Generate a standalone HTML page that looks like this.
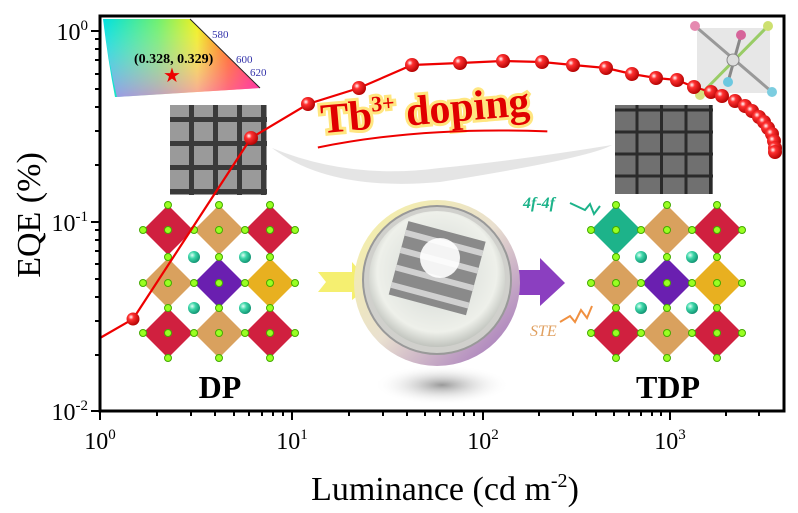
<!DOCTYPE html>
<html><head><meta charset="utf-8"><style>
html,body{margin:0;padding:0;background:#fff}
svg{display:block}
</style></head><body>
<svg width="798" height="513" viewBox="0 0 798 513" xmlns="http://www.w3.org/2000/svg" font-family="Liberation Serif, serif">
<defs>
<radialGradient id="ball" cx="0.35" cy="0.35" r="0.7"><stop offset="0" stop-color="#fff"/><stop offset="0.3" stop-color="#ff3030"/><stop offset="1" stop-color="#b00000"/></radialGradient>
<radialGradient id="tealb" cx="0.35" cy="0.35" r="0.7"><stop offset="0" stop-color="#e0fff5"/><stop offset="0.4" stop-color="#3cd6a8"/><stop offset="1" stop-color="#0f9070"/></radialGradient>
<linearGradient id="cie" x1="0" y1="0" x2="1" y2="0"><stop offset="0" stop-color="#00e0e0"/><stop offset="0.35" stop-color="#70f070"/><stop offset="0.6" stop-color="#f0f020"/><stop offset="0.8" stop-color="#ff6000"/><stop offset="1" stop-color="#ff0050"/></linearGradient>
<linearGradient id="cie2" x1="0" y1="0" x2="0" y2="1"><stop offset="0" stop-color="#fff" stop-opacity="0"/><stop offset="1" stop-color="#ff60ff" stop-opacity="0.55"/></linearGradient>
<radialGradient id="shadow" cx="0.5" cy="0.5" r="0.5"><stop offset="0" stop-color="#999"/><stop offset="1" stop-color="#fff" stop-opacity="0"/></radialGradient>
<radialGradient id="disk" cx="0.5" cy="0.45" r="0.55"><stop offset="0" stop-color="#fff"/><stop offset="0.2" stop-color="#d8dcd8"/><stop offset="0.8" stop-color="#eef0ea"/><stop offset="1" stop-color="#c0c3bd"/></radialGradient>
<linearGradient id="ring" x1="0" y1="0" x2="1" y2="1"><stop offset="0" stop-color="#f7f2a0"/><stop offset="0.5" stop-color="#e9e0d0"/><stop offset="1" stop-color="#9b68b8"/></linearGradient>
<pattern id="sem" width="24" height="24" patternUnits="userSpaceOnUse"><rect width="24" height="24" fill="#3a3a3a"/><rect x="2" y="2" width="19" height="19" fill="#9a9a9a"/></pattern>
<pattern id="sem2" width="24.5" height="22" patternUnits="userSpaceOnUse"><rect width="24.5" height="22" fill="#2a2a2a"/><rect x="1.5" y="1.5" width="21.5" height="19" fill="#707070"/></pattern>
</defs>

<path d="M103,19 L190,19 L260,88 L117,97 L115,97 Q108,60 103,19Z" fill="url(#cie)"/>
<path d="M103,19 L190,19 L260,88 L117,97 Q108,60 103,19Z" fill="url(#cie2)"/>
<line x1="190" y1="19" x2="260" y2="88" stroke="#222" stroke-width="1"/>
<text x="212" y="38" font-size="11" fill="#33a">580</text>
<text x="236" y="63" font-size="11" fill="#33a">600</text>
<text x="250" y="76" font-size="11" fill="#33a">620</text>
<text x="134" y="63" font-size="14" font-weight="bold">(0.328, 0.329)</text>
<text x="172" y="82" font-size="20" fill="#e00" text-anchor="middle">★</text>

<rect x="697" y="28" width="73" height="65" fill="#ddd" opacity="0.7"/>
<line x1="695" y1="26" x2="772" y2="92" stroke="#999" stroke-width="3"/>
<line x1="768" y1="26" x2="700" y2="95" stroke="#9c6" stroke-width="3"/>
<line x1="741" y1="35" x2="728" y2="82" stroke="#888" stroke-width="3"/>
<circle cx="733" cy="60" r="6" fill="#ddd" stroke="#888"/>
<circle cx="695" cy="26" r="5" fill="#e58ab0"/><circle cx="768" cy="26" r="5" fill="#cde070"/><circle cx="741" cy="35" r="5" fill="#d6649a"/>
<circle cx="772" cy="92" r="5" fill="#7ccde0"/><circle cx="728" cy="82" r="5" fill="#6cc8e0"/><circle cx="700" cy="95" r="5" fill="#d6e080"/>

<path d="M272,148 Q350,180 440,168 Q520,160 612,145 Q590,158 440,182 Q330,192 272,148Z" fill="#ccc" opacity="0.5"/>

<rect x="170" y="105" width="97" height="90" fill="url(#sem)"/>
<rect x="615" y="105" width="98" height="89" fill="url(#sem2)"/>

<g transform="rotate(-5 425 110)">
<text x="425" y="124" font-size="42" font-weight="bold" fill="#e00000" text-anchor="middle" stroke="#ffe680" stroke-width="6" paint-order="stroke">Tb<tspan font-size="22" dy="-17">3+</tspan><tspan dy="17"> doping</tspan></text>
<path d="M315,138 Q420,126 545,142" stroke="#e00" stroke-width="2" fill="none"/>
</g>

<g>
<polygon points="168,205 193,230 168,255 143,230" fill="#d0203f"/>
<polygon points="219,205 244,230 219,255 194,230" fill="#d9a15e"/>
<polygon points="270,205 295,230 270,255 245,230" fill="#d0203f"/>
<polygon points="168,258 193,283 168,308 143,283" fill="#d9a15e"/>
<polygon points="219,258 244,283 219,308 194,283" fill="#6a1fb0"/>
<polygon points="270,258 295,283 270,308 245,283" fill="#e8b020"/>
<polygon points="168,308 193,333 168,358 143,333" fill="#d0203f"/>
<polygon points="219,308 244,333 219,358 194,333" fill="#d9a15e"/>
<polygon points="270,308 295,333 270,358 245,333" fill="#d0203f"/>
</g>
<g fill="url(#tealb)"><circle cx="194" cy="257" r="6"/><circle cx="245" cy="257" r="6"/><circle cx="194" cy="308" r="6"/><circle cx="245" cy="308" r="6"/></g>
<g fill="#9f2" stroke="#4a0" stroke-width="1">
<circle cx="143" cy="230" r="3.5"/><circle cx="194" cy="230" r="3.5"/><circle cx="245" cy="230" r="3.5"/><circle cx="295" cy="230" r="3.5"/>
<circle cx="168" cy="205" r="3.5"/><circle cx="219" cy="205" r="3.5"/><circle cx="270" cy="205" r="3.5"/>
<circle cx="168" cy="230" r="3.5"/><circle cx="219" cy="230" r="3.5"/><circle cx="270" cy="230" r="3.5"/>
<circle cx="143" cy="283" r="3.5"/><circle cx="194" cy="283" r="3.5"/><circle cx="245" cy="283" r="3.5"/><circle cx="295" cy="283" r="3.5"/>
<circle cx="168" cy="283" r="3.5"/><circle cx="219" cy="283" r="3.5"/><circle cx="270" cy="283" r="3.5"/>
<circle cx="168" cy="257" r="3.5"/><circle cx="219" cy="257" r="3.5"/><circle cx="270" cy="257" r="3.5"/>
<circle cx="168" cy="308" r="3.5"/><circle cx="219" cy="308" r="3.5"/><circle cx="270" cy="308" r="3.5"/>
<circle cx="143" cy="333" r="3.5"/><circle cx="194" cy="333" r="3.5"/><circle cx="245" cy="333" r="3.5"/><circle cx="295" cy="333" r="3.5"/>
<circle cx="168" cy="333" r="3.5"/><circle cx="219" cy="333" r="3.5"/><circle cx="270" cy="333" r="3.5"/>
<circle cx="168" cy="358" r="3.5"/><circle cx="219" cy="358" r="3.5"/><circle cx="270" cy="358" r="3.5"/>
</g>
<g>
<polygon points="616,205 641,230 616,255 591,230" fill="#1db38a"/>
<polygon points="667,205 692,230 667,255 642,230" fill="#d9a15e"/>
<polygon points="717,205 742,230 717,255 692,230" fill="#d0203f"/>
<polygon points="616,258 641,283 616,308 591,283" fill="#d9a15e"/>
<polygon points="667,258 692,283 667,308 642,283" fill="#6a1fb0"/>
<polygon points="717,258 742,283 717,308 692,283" fill="#e8b020"/>
<polygon points="616,308 641,333 616,358 591,333" fill="#d0203f"/>
<polygon points="667,308 692,333 667,358 642,333" fill="#d9a15e"/>
<polygon points="717,308 742,333 717,358 692,333" fill="#d0203f"/>
</g>
<g fill="url(#tealb)"><circle cx="641" cy="257" r="6"/><circle cx="692" cy="257" r="6"/><circle cx="641" cy="308" r="6"/><circle cx="692" cy="308" r="6"/></g>
<g fill="#9f2" stroke="#4a0" stroke-width="1">
<circle cx="591" cy="230" r="3.5"/><circle cx="641" cy="230" r="3.5"/><circle cx="692" cy="230" r="3.5"/><circle cx="742" cy="230" r="3.5"/>
<circle cx="616" cy="205" r="3.5"/><circle cx="667" cy="205" r="3.5"/><circle cx="717" cy="205" r="3.5"/>
<circle cx="616" cy="230" r="3.5"/><circle cx="667" cy="230" r="3.5"/><circle cx="717" cy="230" r="3.5"/>
<circle cx="591" cy="283" r="3.5"/><circle cx="641" cy="283" r="3.5"/><circle cx="692" cy="283" r="3.5"/><circle cx="742" cy="283" r="3.5"/>
<circle cx="616" cy="283" r="3.5"/><circle cx="667" cy="283" r="3.5"/><circle cx="717" cy="283" r="3.5"/>
<circle cx="616" cy="257" r="3.5"/><circle cx="667" cy="257" r="3.5"/><circle cx="717" cy="257" r="3.5"/>
<circle cx="616" cy="308" r="3.5"/><circle cx="667" cy="308" r="3.5"/><circle cx="717" cy="308" r="3.5"/>
<circle cx="591" cy="333" r="3.5"/><circle cx="641" cy="333" r="3.5"/><circle cx="692" cy="333" r="3.5"/><circle cx="742" cy="333" r="3.5"/>
<circle cx="616" cy="333" r="3.5"/><circle cx="667" cy="333" r="3.5"/><circle cx="717" cy="333" r="3.5"/>
<circle cx="616" cy="358" r="3.5"/><circle cx="667" cy="358" r="3.5"/><circle cx="717" cy="358" r="3.5"/>
</g>
<text x="523" y="208" font-size="16" font-style="italic" font-weight="bold" fill="#1db38a">4f-4f</text>
<path d="M570,203 L585,210 L590,204 L594,214 L600,206" stroke="#1db38a" stroke-width="2" fill="none"/>
<text x="530" y="336" font-size="16" font-style="italic" fill="#e0a060">STE</text>
<path d="M560,322 L570,316 L575,322 L581,310 L587,318 L592,306" stroke="#f09040" stroke-width="2" fill="none"/>

<polygon points="318,272 352,272 352,262 372,285 352,300 352,292 318,292 326,282" fill="#f5ef70"/>
<polygon points="512,270 540,270 540,258 565,283 540,306 540,295 512,295" fill="#8b3fc0"/>
<ellipse cx="442" cy="385" rx="68" ry="20" fill="url(#shadow)"/>
<circle cx="437" cy="283" r="83" fill="url(#ring)"/>
<circle cx="437" cy="280" r="74" fill="#d0d0cc" stroke="#999" stroke-width="2"/>
<circle cx="437" cy="279" r="68" fill="url(#disk)"/>
<g transform="rotate(15 437 265)"><rect x="398" y="230" width="80" height="76" fill="#8a8a8a"/>
<g stroke="#d0d0d0" stroke-width="6"><line x1="398" y1="242" x2="478" y2="242"/><line x1="398" y1="260" x2="478" y2="260"/><line x1="398" y1="278" x2="478" y2="278"/><line x1="398" y1="296" x2="478" y2="296"/></g></g>
<circle cx="440" cy="258" r="20" fill="#fff" opacity="0.9"/>

<text x="220" y="398" font-size="32" font-weight="bold" text-anchor="middle">DP</text>
<text x="668" y="398" font-size="32" font-weight="bold" text-anchor="middle">TDP</text>

<polyline fill="none" stroke="#e00" stroke-width="2.2" points="100,338 133,319 251,138 308,104 359,88 412,65 460,63 503,61 542,62 573,65 606,68 632,74 656,78 677,80 694,87 711,92 722,96 735,101 745,106 752,111 759,117 764,122 768,128 772,134 774,141 775,148 775,152"/>
<g fill="url(#ball)">
<circle cx="133" cy="319" r="6.5"/><circle cx="251" cy="138" r="7"/><circle cx="308" cy="104" r="7"/><circle cx="359" cy="88" r="7"/>
<circle cx="412" cy="65" r="7"/><circle cx="460" cy="63" r="7"/><circle cx="503" cy="61" r="7"/><circle cx="542" cy="62" r="7"/><circle cx="573" cy="65" r="7"/><circle cx="606" cy="68" r="7"/><circle cx="632" cy="74" r="7"/><circle cx="656" cy="78" r="7"/><circle cx="677" cy="80" r="7"/><circle cx="694" cy="87" r="7"/><circle cx="711" cy="92" r="7"/><circle cx="722" cy="96" r="7"/><circle cx="735" cy="101" r="7"/><circle cx="745" cy="106" r="7"/><circle cx="752" cy="111" r="7"/><circle cx="759" cy="117" r="7"/><circle cx="764" cy="122" r="7"/><circle cx="768" cy="128" r="7"/><circle cx="772" cy="134" r="7"/><circle cx="774" cy="141" r="7"/><circle cx="775" cy="148" r="7"/><circle cx="775" cy="152" r="7"/>
</g>

<rect x="100" y="16" width="684" height="395" fill="none" stroke="#000" stroke-width="3"/>
<g stroke="#000" stroke-width="2">
<line x1="91" y1="31" x2="100" y2="31"/><line x1="91" y1="222" x2="100" y2="222"/><line x1="91" y1="411" x2="100" y2="411"/>
<line x1="95" y1="39" x2="100" y2="39"/><line x1="95" y1="49" x2="100" y2="49"/><line x1="95" y1="60" x2="100" y2="60"/><line x1="95" y1="74" x2="100" y2="74"/><line x1="95" y1="89" x2="100" y2="89"/><line x1="95" y1="107" x2="100" y2="107"/><line x1="95" y1="131" x2="100" y2="131"/><line x1="95" y1="165" x2="100" y2="165"/>
<line x1="95" y1="230" x2="100" y2="230"/><line x1="95" y1="240" x2="100" y2="240"/><line x1="95" y1="251" x2="100" y2="251"/><line x1="95" y1="264" x2="100" y2="264"/><line x1="95" y1="279" x2="100" y2="279"/><line x1="95" y1="297" x2="100" y2="297"/><line x1="95" y1="321" x2="100" y2="321"/><line x1="95" y1="355" x2="100" y2="355"/>
<line x1="100" y1="411" x2="100" y2="420"/><line x1="292" y1="411" x2="292" y2="420"/><line x1="483" y1="411" x2="483" y2="420"/><line x1="670" y1="411" x2="670" y2="420"/>
<line x1="157" y1="411" x2="157" y2="416"/><line x1="191" y1="411" x2="191" y2="416"/><line x1="215" y1="411" x2="215" y2="416"/><line x1="234" y1="411" x2="234" y2="416"/><line x1="249" y1="411" x2="249" y2="416"/><line x1="262" y1="411" x2="262" y2="416"/><line x1="273" y1="411" x2="273" y2="416"/><line x1="283" y1="411" x2="283" y2="416"/>
<line x1="349" y1="411" x2="349" y2="416"/><line x1="383" y1="411" x2="383" y2="416"/><line x1="407" y1="411" x2="407" y2="416"/><line x1="425" y1="411" x2="425" y2="416"/><line x1="440" y1="411" x2="440" y2="416"/><line x1="453" y1="411" x2="453" y2="416"/><line x1="464" y1="411" x2="464" y2="416"/><line x1="474" y1="411" x2="474" y2="416"/>
<line x1="539" y1="411" x2="539" y2="416"/><line x1="573" y1="411" x2="573" y2="416"/><line x1="596" y1="411" x2="596" y2="416"/><line x1="614" y1="411" x2="614" y2="416"/><line x1="629" y1="411" x2="629" y2="416"/><line x1="641" y1="411" x2="641" y2="416"/><line x1="652" y1="411" x2="652" y2="416"/><line x1="661" y1="411" x2="661" y2="416"/>
<line x1="726" y1="411" x2="726" y2="416"/><line x1="759" y1="411" x2="759" y2="416"/>
</g>
<g font-size="24">
<text x="88" y="40" text-anchor="end">10<tspan font-size="15" dy="-10">0</tspan></text>
<text x="88" y="231" text-anchor="end">10<tspan font-size="15" dy="-10">-1</tspan></text>
<text x="88" y="420" text-anchor="end">10<tspan font-size="15" dy="-10">-2</tspan></text>
<text x="100" y="449" text-anchor="middle">10<tspan font-size="15" dy="-10">0</tspan></text>
<text x="292" y="449" text-anchor="middle">10<tspan font-size="15" dy="-10">1</tspan></text>
<text x="483" y="449" text-anchor="middle">10<tspan font-size="15" dy="-10">2</tspan></text>
<text x="670" y="449" text-anchor="middle">10<tspan font-size="15" dy="-10">3</tspan></text>
</g>
<text x="445" y="500" font-size="34" text-anchor="middle">Luminance (cd m<tspan font-size="20" dy="-13">-2</tspan><tspan dy="13">)</tspan></text>
<text transform="translate(40 215) rotate(-90)" font-size="34" text-anchor="middle">EQE (%)</text>
</svg>
</body></html>
